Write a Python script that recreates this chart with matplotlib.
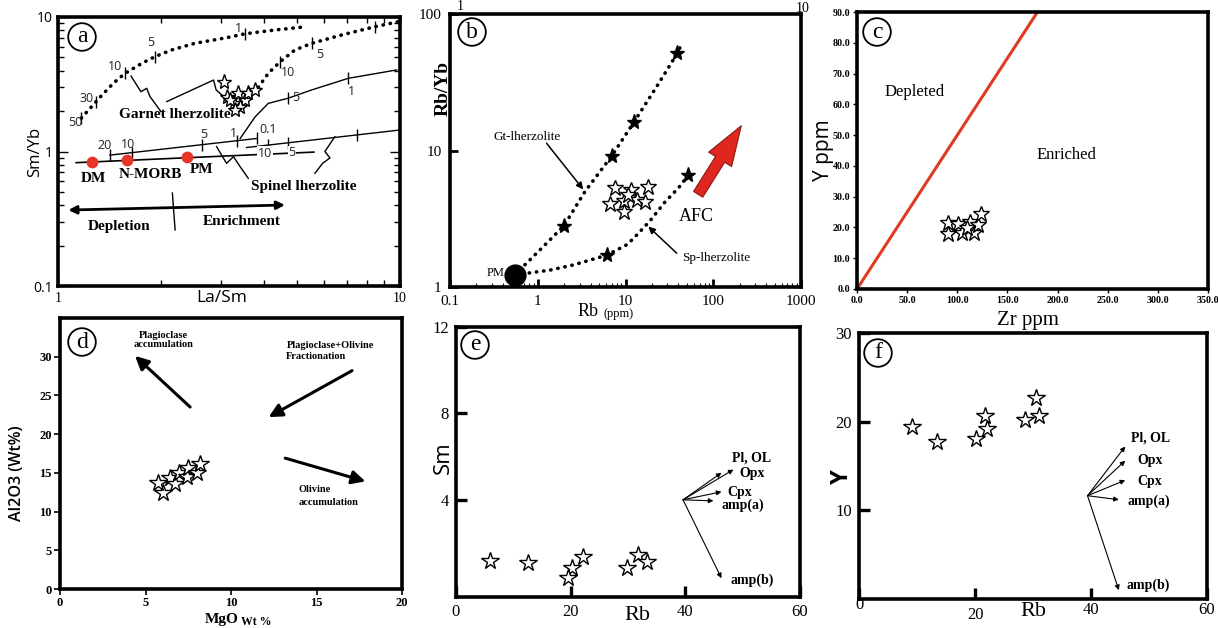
import matplotlib
matplotlib.use("Agg")
import matplotlib.pyplot as plt
from matplotlib.ticker import NullFormatter, FixedLocator, LogLocator
from matplotlib.patches import FancyArrowPatch

W, H = 1218, 628
SERIF = ["Liberation Serif", "DejaVu Serif"]
SANS = ["Open Sans", "DejaVu Sans"]
plt.rcParams["font.family"] = SERIF
plt.rcParams["axes.linewidth"] = 2.6

# ---------------- (a) La/Sm vs Sm/Yb ----------------
a_gar1_x = [1.17, 1.33, 1.45, 1.57, 1.76, 1.92, 2.15, 2.51, 3.10, 3.52, 4.30, 5.16]
a_gar1_y = [1.77, 2.55, 3.21, 3.81, 4.53, 5.07, 5.69, 6.37, 7.00, 7.50, 8.00, 8.40]
a_gar1_tick_x = [1.17, 1.29, 1.57, 1.92, 3.52]
a_gar1_tick_y = [1.77, 2.35, 3.81, 5.07, 7.50]
a_gar1_labels = ["50", "30", "10", "5", "1"]
a_gar1_lab_x = [1.12, 1.21, 1.47, 1.87, 3.37]
a_gar1_lab_y = [1.64, 2.49, 4.27, 6.44, 8.24]

a_gar2_x = [3.85, 4.12, 4.46, 4.93, 5.52, 6.75, 8.45, 9.90]
a_gar2_y = [3.00, 3.81, 4.65, 5.69, 6.37, 7.35, 8.47, 9.23]
a_gar2_tick_x = [4.46, 5.52, 8.45]
a_gar2_tick_y = [4.65, 6.37, 8.47]
a_gar2_labels = ["10", "5"]
a_gar2_lab_x = [4.71, 5.81]
a_gar2_lab_y = [3.85, 5.22]

a_tr_x = [3.41, 3.77, 4.12, 4.71, 5.52, 7.06, 9.78]
a_tr_y = [1.25, 1.81, 2.28, 2.49, 2.87, 3.50, 4.04]
a_tr_tick_x = [4.71, 7.06]
a_tr_tick_y = [2.49, 3.50]
a_tr_labels = ["5", "1"]
a_tr_lab_x = [4.97, 7.22]
a_tr_lab_y = [2.53, 2.78]

a_sp1_x = [1.42, 3.81]
a_sp1_y = [0.94, 1.25]
a_sp1_tick_x = [1.42, 1.65, 2.64, 3.34, 3.81]
a_sp1_tick_y = [0.94, 0.982, 1.124, 1.203, 1.25]
a_sp1_labels = ["20", "10", "5", "1", "0.1"]
a_sp1_lab_x = [1.37, 1.60, 2.66, 3.26, 4.12]
a_sp1_lab_y = [1.10, 1.137, 1.33, 1.365, 1.445]

a_sp2_x = [3.56, 10.0]
a_sp2_y = [1.07, 1.445]
a_sp2_tick_x = [4.12, 4.71, 7.48]
a_sp2_tick_y = [1.117, 1.161, 1.328]

a_melt_x = [1.13, 5.60]
a_melt_y = [0.826, 0.99]
a_melt_labels = ["10", "5"]
a_melt_lab_x = [4.03, 4.83]
a_melt_lab_y = [0.965, 0.977]

a_ref_names = ["DM", "N-MORB", "PM"]
a_ref_x = [1.255, 1.588, 2.38]
a_ref_y = [0.84, 0.865, 0.906]
a_ref_lab_x = [1.27, 1.86, 2.63]
a_ref_lab_y = [0.632, 0.669, 0.737]

a_star_x = [3.06, 3.11, 3.26, 3.37, 3.52, 3.41, 3.60, 3.77, 3.18, 3.29]
a_star_y = [3.30, 2.56, 2.28, 2.71, 2.41, 2.15, 2.71, 2.87, 2.41, 2.04]

a_lead_g1_x = [1.635, 1.748, 1.817, 1.858, 2.0]
a_lead_g1_y = [3.64, 2.78, 2.95, 2.56, 1.98]
a_lead_g2_x = [2.08, 2.85, 2.90, 3.06]
a_lead_g2_y = [2.35, 3.40, 2.87, 2.54]
a_lead_s1_x = [2.91, 3.11, 3.26, 3.41, 3.60]
a_lead_s1_y = [1.086, 0.817, 0.915, 0.77, 0.632]
a_lead_s2_x = [6.45, 6.03, 6.24, 5.94, 5.64]
a_lead_s2_y = [1.288, 1.0, 0.895, 0.817, 0.689]

# ---------------- (b) Rb vs Rb/Yb ----------------
b_pm = (0.55, 1.22)
b_gt_x = [0.55, 0.68, 1.06, 1.99, 3.45, 7.0, 12.6, 22.6, 38.9, 44.0]
b_gt_y = [1.22, 1.41, 1.87, 2.81, 5.0, 9.16, 16.3, 29.3, 51.5, 61.0]
b_gt_star_x = [1.99, 7.0, 12.6, 38.9]
b_gt_star_y = [2.81, 9.16, 16.3, 51.5]
b_sp_x = [0.55, 0.75, 1.38, 2.54, 6.1, 10.5, 14.0, 19.0, 28.2, 40.0, 52.0]
b_sp_y = [1.22, 1.26, 1.33, 1.45, 1.71, 2.05, 2.47, 3.05, 4.20, 5.30, 6.60]
b_sp_star_x = [6.1, 52.0]
b_sp_star_y = [1.71, 6.6]
b_star_x = [7.59, 11.6, 18.0, 6.65, 9.6, 13.5, 16.7, 9.6, 10.7]
b_star_y = [5.31, 5.14, 5.40, 4.06, 4.27, 4.34, 4.19, 3.54, 4.72]
b_afc_tail = (64.7, 4.59)
b_afc_head = (217.0, 15.8)

# ---------------- (c) Zr vs Y ----------------
c_line_x = [0, 180]
c_line_y = [0, 90]
c_star_x = [91, 90.4, 101, 104.4, 112.7, 117, 121, 123.3, 109.4]
c_star_y = [21.4, 17.8, 21.1, 18.1, 21.9, 18.1, 20.8, 24.3, 19.7]

# ---------------- (d) MgO vs Al2O3 ----------------
d_star_x = [6.0, 5.76, 6.44, 6.73, 6.93, 7.42, 7.51, 8.0, 8.2]
d_star_y = [12.4, 13.7, 14.3, 13.5, 15.0, 14.5, 15.6, 15.0, 16.1]
d_arrows = [((7.61, 23.5), (4.39, 30.1)),
            ((17.08, 28.2), (12.2, 22.2)),
            ((13.17, 16.9), (17.86, 13.9))]

# ---------------- (e) Rb vs Sm ----------------
e_star_x = [5.93, 12.6, 20.2, 19.6, 22.2, 29.8, 31.8, 33.3]
e_star_y = [1.18, 1.06, 0.83, 0.37, 1.37, 0.83, 1.44, 1.13]
e_origin = (39.6, 4.0)
e_vec_names = ["Pl, OL", "Opx", "Cpx", "amp(a)", "amp(b)"]
e_vec_x = [46.3, 48.4, 46.3, 44.9, 46.3]
e_vec_y = [5.25, 5.40, 4.37, 3.95, 0.37]
e_lab_x = [51.6, 51.6, 49.5, 50.1, 51.6]
e_lab_y = [5.92, 5.23, 4.33, 3.76, 0.29]

# ---------------- (f) Rb vs Y ----------------
f_star_x = [9.1, 13.5, 20.2, 22.0, 21.8, 28.6, 31.0, 30.6]
f_star_y = [19.4, 17.7, 18.1, 19.2, 20.6, 20.2, 20.6, 22.7]
f_origin = (39.4, 11.65)
f_vec_names = ["Pl, OL", "Opx", "Cpx", "amp(a)", "amp(b)"]
f_vec_x = [45.9, 45.9, 45.9, 44.8, 44.8]
f_vec_y = [17.2, 15.6, 13.4, 11.2, 1.0]
f_lab_x = [50.2, 50.2, 50.2, 49.9, 49.9]
f_lab_y = [18.1, 15.6, 13.2, 11.0, 1.5]

fig = plt.figure(figsize=(W / 100, H / 100), dpi=100)


def add_ax(x0, y0, x1, y1):
    return fig.add_axes([x0 / W, 1 - y1 / H, (x1 - x0) / W, (y1 - y0) / H])


def ftext(px, py, s, **kw):
    kw.setdefault("ha", "center")
    kw.setdefault("va", "center")
    fig.text(px / W, 1 - py / H, s, **kw)


def circ_label(px, py, s):
    ftext(px, py, s, fontsize=17, family=SERIF,
          bbox=dict(boxstyle="circle,pad=0.14", fc="white", ec="black", lw=1.3))


def open_stars(ax, x, y, ms=12.5):
    ax.plot(x, y, ls="none", marker="*", ms=ms, mfc="white", mec="black", mew=1.0, zorder=5)


def set_tick_fonts(ax, family, size, weight="normal"):
    for lab in ax.get_xticklabels() + ax.get_yticklabels():
        lab.set_family(family)
        lab.set_fontsize(size)
        lab.set_fontweight(weight)


dotted = dict(color="black", lw=2.6, linestyle=(0, (0.1, 1.9)), dash_capstyle="round")
tickmk = dict(ls="none", marker="|", ms=8, mew=1.0, color="black")
bold9 = dict(family=SERIF, fontweight="bold")

# ======== panel a ========
ax = add_ax(58, 17, 400, 286)
ax.set_xscale("log")
ax.set_yscale("log")
ax.set_xlim(1, 10)
ax.set_ylim(0.1, 10)
ax.plot(a_gar1_x, a_gar1_y, **dotted)
ax.plot(a_gar2_x, a_gar2_y, **dotted)
ax.plot(a_tr_x, a_tr_y, color="black", lw=1)
ax.plot(a_sp1_x, a_sp1_y, color="black", lw=1)
ax.plot(a_sp2_x, a_sp2_y, color="black", lw=1)
ax.plot(a_melt_x, a_melt_y, color="black", lw=1.2)
for tx, ty in [(a_gar1_tick_x, a_gar1_tick_y), (a_gar2_tick_x, a_gar2_tick_y),
               (a_tr_tick_x, a_tr_tick_y), (a_sp1_tick_x, a_sp1_tick_y),
               (a_sp2_tick_x, a_sp2_tick_y)]:
    ax.plot(tx, ty, **tickmk)
for labs, lx, ly in [(a_gar1_labels, a_gar1_lab_x, a_gar1_lab_y),
                     (a_gar2_labels, a_gar2_lab_x, a_gar2_lab_y),
                     (a_tr_labels, a_tr_lab_x, a_tr_lab_y),
                     (a_sp1_labels, a_sp1_lab_x, a_sp1_lab_y)]:
    for s, x, y in zip(labs, lx, ly):
        ax.text(x, y, s, ha="center", va="center", fontsize=9, family=SANS, color="#222222")
for s, x, y in zip(a_melt_labels, a_melt_lab_x, a_melt_lab_y):
    ax.text(x, y, s, ha="center", va="center", fontsize=9, family=SANS, color="#222222",
            bbox=dict(boxstyle="square,pad=0.05", fc="white", ec="none"))
ax.plot(a_ref_x, a_ref_y, ls="none", marker="o", ms=8.5, color="#e8352a", mew=0, zorder=4)
for s, x, y in zip(a_ref_names, a_ref_lab_x, a_ref_lab_y):
    ax.text(x, y, s, ha="center", va="center", fontsize=11, **bold9)
open_stars(ax, a_star_x, a_star_y, ms=11)
for lx, ly in [(a_lead_g1_x, a_lead_g1_y), (a_lead_g2_x, a_lead_g2_y),
               (a_lead_s1_x, a_lead_s1_y), (a_lead_s2_x, a_lead_s2_y)]:
    ax.plot(lx, ly, color="black", lw=1)
ax.text(2.20, 1.89, "Garnet lherzolite", ha="center", va="center", fontsize=11, **bold9)
ax.text(5.22, 0.547, "Spinel lherzolite", ha="center", va="center", fontsize=11, **bold9)
ax.annotate("", xy=(4.61, 0.40), xytext=(1.072, 0.367),
            arrowprops=dict(arrowstyle="<|-|>", lw=2, color="black", mutation_scale=12,
                            shrinkA=0, shrinkB=0))
ax.plot([2.16, 2.2], [0.491, 0.261], color="black", lw=1)
ax.text(1.51, 0.279, "Depletion", ha="center", va="center", fontsize=11, **bold9)
ax.text(3.44, 0.30, "Enrichment", ha="center", va="center", fontsize=11, **bold9)
ax.xaxis.set_major_locator(FixedLocator([1, 10]))
ax.set_xticklabels(["1", "10"])
ax.yaxis.set_major_locator(FixedLocator([0.1, 1, 10]))
ax.set_yticklabels(["0.1", "1", "10"])
ax.xaxis.set_minor_locator(LogLocator(subs=range(2, 10)))
ax.yaxis.set_minor_locator(LogLocator(subs=range(2, 10)))
ax.xaxis.set_minor_formatter(NullFormatter())
ax.yaxis.set_minor_formatter(NullFormatter())
ax.tick_params(which="both", direction="in", top=True, right=True, width=1)
ax.tick_params(which="major", length=7, pad=4)
ax.tick_params(which="minor", length=4)
for lab in ax.get_xticklabels():
    lab.set_family(SERIF)
    lab.set_fontsize(10)
for lab in ax.get_yticklabels():
    lab.set_family(SANS)
    lab.set_fontsize(10)
ftext(35, 152, "Sm/Yb", rotation=90, fontsize=12, family=SANS)
ftext(222, 298, "La/Sm", fontsize=12.5, family=SANS)
circ_label(82, 37, "a")

# ======== panel b ========
ax = add_ax(450, 14, 801, 287)
ax.set_xscale("log")
ax.set_yscale("log")
ax.set_xlim(0.1, 1000)
ax.set_ylim(1, 100)
ax.plot(b_gt_x, b_gt_y, **dotted)
ax.plot(b_sp_x, b_sp_y, **dotted)
ax.plot(b_gt_star_x, b_gt_star_y, ls="none", marker="*", ms=11, color="black", zorder=5)
ax.plot(b_sp_star_x, b_sp_star_y, ls="none", marker="*", ms=11, color="black", zorder=5)
ax.plot([b_pm[0]], [b_pm[1]], ls="none", marker="o", ms=15, color="black", zorder=6)
ax.text(0.332, 1.26, "PM", ha="center", va="center", fontsize=9, family=SERIF)
open_stars(ax, b_star_x, b_star_y, ms=12)
arr = FancyArrowPatch(b_afc_tail, b_afc_head,
                      arrowstyle="simple,head_width=1.5,head_length=2.2,tail_width=0.6",
                      mutation_scale=13, fc="#e0271f", ec="#8a1a14", lw=0.8, zorder=4)
ax.add_patch(arr)
ax.text(64.7, 3.3, "AFC", ha="center", va="center", fontsize=13, family=SERIF)
ax.text(0.75, 12.6, "Gt-lherzolite", ha="center", va="center", fontsize=9.5, family=SERIF)
ax.annotate("", xy=(3.45, 5.0), xytext=(1.26, 11.3),
            arrowprops=dict(arrowstyle="-|>", lw=1.1, color="black", mutation_scale=10,
                            shrinkA=0, shrinkB=2))
ax.text(109, 1.62, "Sp-lherzolite", ha="center", va="center", fontsize=9.5, family=SERIF)
ax.annotate("", xy=(18.2, 2.77), xytext=(38.3, 1.77),
            arrowprops=dict(arrowstyle="-|>", lw=1.1, color="black", mutation_scale=10,
                            shrinkA=0, shrinkB=0))
ax.xaxis.set_major_locator(FixedLocator([0.1, 1, 10, 100, 1000]))
ax.set_xticklabels(["0.1", "1", "10", "100", "1000"])
ax.yaxis.set_major_locator(FixedLocator([1, 10, 100]))
ax.set_yticklabels(["1", "10", "100"])
ax.xaxis.set_minor_locator(LogLocator(subs=range(2, 10)))
ax.xaxis.set_minor_formatter(NullFormatter())
ax.yaxis.set_minor_locator(FixedLocator([]))
ax.tick_params(which="both", direction="in")
ax.tick_params(which="major", length=6, width=2, pad=6)
ax.tick_params(which="minor", length=3, width=0.8)
set_tick_fonts(ax, SERIF, 11)
ftext(443, 88, "Rb/Yb", rotation=90, fontsize=14, family=SERIF, fontweight="bold")
ftext(588, 312, "Rb", fontsize=13, family=SERIF)
ftext(619, 314, "(ppm)", fontsize=9, family=SERIF)
ftext(460, 7, "1", fontsize=10, family=SERIF)
ftext(803, 8, "10", fontsize=10, family=SERIF)
circ_label(472, 32, "b")

# ======== panel c ========
ax = add_ax(857, 12, 1208, 289)
ax.set_xlim(0, 350)
ax.set_ylim(0, 90)
ax.plot(c_line_x, c_line_y, color="#e03a25", lw=2.2)
open_stars(ax, c_star_x, c_star_y, ms=12)
ax.text(57.8, 64.1, "Depleted", ha="center", va="center", fontsize=12, family=SERIF)
ax.text(209, 43.5, "Enriched", ha="center", va="center", fontsize=12, family=SERIF)
ax.set_xticks(range(0, 351, 50))
ax.set_xticklabels([f"{v:.1f}" for v in range(0, 351, 50)])
ax.set_yticks(range(0, 91, 10))
ax.set_yticklabels([f"{v:.1f}" for v in range(0, 91, 10)])
ax.tick_params(direction="out", length=3, width=1, pad=2)
set_tick_fonts(ax, SERIF, 7.2, "bold")
ftext(823, 150, "Y ppm", rotation=90, fontsize=15, family=SANS)
ftext(1028, 320, "Zr ppm", fontsize=15, family=SERIF)
circ_label(877, 32, "c")

# ======== panel d ========
ax = add_ax(60, 318, 402, 589)
ax.set_xlim(0, 20)
ax.set_ylim(0, 35)
open_stars(ax, d_star_x, d_star_y, ms=13)
for tail, head in d_arrows:
    ax.annotate("", xy=head, xytext=tail,
                arrowprops=dict(arrowstyle="-|>", lw=2.2, color="black", mutation_scale=20,
                                shrinkA=0, shrinkB=0))
ax.text(6.05, 32.2, "Plagioclase\naccumulation", ha="center", va="center", fontsize=7.5,
        linespacing=1.0, **bold9)
ax.text(15.8, 31.5, "Plagioclase+Olivine", ha="center", va="center", fontsize=7.5, **bold9)
ax.text(13.2, 30.0, "Fractionation", ha="left", va="center", fontsize=7.5, **bold9)
ax.text(13.95, 12.8, "Olivine", ha="left", va="center", fontsize=7.5, **bold9)
ax.text(13.95, 11.2, "accumulation", ha="left", va="center", fontsize=7.5, **bold9)
ax.set_xticks(range(0, 21, 5))
ax.set_yticks(range(0, 31, 5))
ax.tick_params(direction="out", length=4, width=1.2, pad=2)
set_tick_fonts(ax, SERIF, 9, "bold")
ftext(17, 473, "Al2O3 (Wt%)", rotation=90, fontsize=11.5, family=SANS, fontweight="semibold")
ftext(222, 620, "MgO", fontsize=11, family=SERIF, fontweight="bold")
ftext(256, 622, "Wt %", fontsize=8.5, family=SERIF, fontweight="bold")
circ_label(82, 342, "d")

# ======== panel e ========
ax = add_ax(456, 327, 800, 597)
ax.set_xlim(0, 60)
ax.set_ylim(-0.5, 12)
open_stars(ax, e_star_x, e_star_y, ms=13)
for x, y in zip(e_vec_x, e_vec_y):
    ax.annotate("", xy=(x, y), xytext=e_origin,
                arrowprops=dict(arrowstyle="-|>", lw=0.8, color="black", mutation_scale=7,
                                shrinkA=0, shrinkB=0))
for s, x, y in zip(e_vec_names, e_lab_x, e_lab_y):
    ax.text(x, y, s, ha="center", va="center", fontsize=10, **bold9)
ax.set_xticks([0, 20, 40, 60])
ax.set_yticks([4, 8, 12])
ax.tick_params(direction="in", length=8, width=2.4, pad=5)
set_tick_fonts(ax, SERIF, 12)
ftext(443, 458, "Sm", rotation=90, fontsize=16, family=SANS)
ftext(637, 615, "Rb", fontsize=16, family=SERIF)
circ_label(475, 345, "e")

# ======== panel f ========
ax = add_ax(859, 333, 1207, 599)
ax.set_xlim(0, 60)
ax.set_ylim(0, 30)
open_stars(ax, f_star_x, f_star_y, ms=13)
for x, y in zip(f_vec_x, f_vec_y):
    ax.annotate("", xy=(x, y), xytext=f_origin,
                arrowprops=dict(arrowstyle="-|>", lw=0.8, color="black", mutation_scale=7,
                                shrinkA=0, shrinkB=0))
for s, x, y in zip(f_vec_names, f_lab_x, f_lab_y):
    ax.text(x, y, s, ha="center", va="center", fontsize=10, **bold9)
f_xticks = [0, 20, 40, 60]
f_xtick_pad = [6, 16, 11, 11]
ax.set_xticks(f_xticks)
ax.set_xticklabels([])
for v, p in zip(f_xticks, f_xtick_pad):
    ax.annotate(str(v), xy=(v, 0), xycoords=("data", "axes fraction"), xytext=(0, -p),
                textcoords="offset pixels", ha="center", va="center", fontsize=12,
                family=SERIF, annotation_clip=False)
ax.set_yticks([10, 20, 30])
ax.tick_params(direction="in", length=8, width=2.4, pad=5)
set_tick_fonts(ax, SERIF, 12)
ftext(842, 477, "Y", rotation=90, fontsize=17, family=SANS, fontweight="bold")
ftext(1033, 611, "Rb", fontsize=16, family=SERIF)
circ_label(878, 353, "f")

fig.savefig("out.png", dpi=100)
